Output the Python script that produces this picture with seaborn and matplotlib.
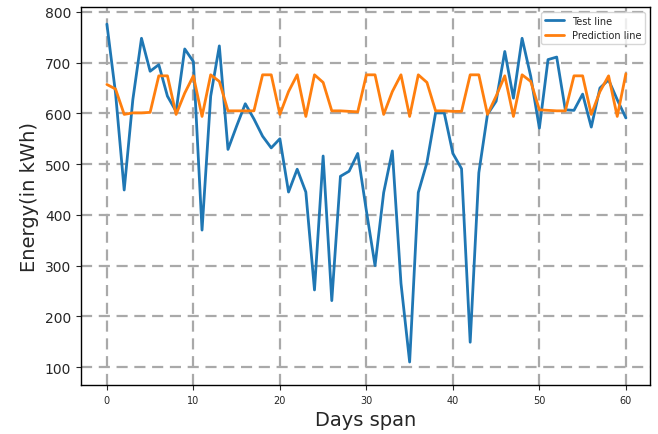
import matplotlib
matplotlib.use("Agg")
import matplotlib.pyplot as plt
import numpy as np
import pandas as pd
import seaborn as sns

sns.set_style("ticks")

days = list(range(61))

test_vals = [
    776, 640, 449, 627, 748, 683, 696, 634, 604, 727,
    702, 370, 634, 733, 529, 575, 619, 589, 555, 532,
    550, 445, 490, 445, 252, 516, 231, 476, 486, 521,
    408, 300, 444, 526, 265, 110, 444, 503, 601, 601,
    521, 491, 149, 483, 598, 624, 722, 630, 748, 673,
    571, 706, 711, 607, 606, 638, 573, 650, 666, 627,
    591,
]

pred_vals = [
    657, 648, 598, 601, 601, 602, 674, 674, 598, 640,
    674, 594, 676, 663, 605, 605, 605, 605, 676, 676,
    598, 643, 676, 594, 676, 661, 605, 605, 604, 603,
    676, 676, 598, 643, 676, 594, 676, 661, 605, 605,
    604, 604, 676, 676, 598, 634, 674, 594, 676, 663,
    607, 606, 605, 605, 674, 674, 598, 643, 674, 594,
    678,
]

df = pd.DataFrame({
    "day": days * 2,
    "energy": test_vals + pred_vals,
    "series": ["Test line"] * len(days) + ["Prediction line"] * len(days),
})

fig = plt.figure(figsize=(6.58, 4.35), dpi=100)
ax = fig.add_axes([0.123, 0.113, 0.865, 0.869])

sns.lineplot(data=df, x="day", y="energy", hue="series",
             palette=["#1f77b4", "#ff7f0e"], linewidth=2, ax=ax)

ax.grid(True, linestyle=(0, (5, 3)), color="#a9a9a9", linewidth=1.6)
ax.set_axisbelow(True)
ax.set_xlim(-3, 62.8)
ax.set_ylim(65, 810)
ax.set_xticks([0, 10, 20, 30, 40, 50, 60])
ax.set_yticks([100, 200, 300, 400, 500, 600, 700, 800])
ax.tick_params(axis="x", labelsize=7)
ax.tick_params(axis="y", labelsize=10)
ax.set_xlabel("Days span", fontsize=14)
ax.set_ylabel("Energy(in kWh)", fontsize=14)
ax.legend(loc="upper right", fontsize=7, title=None)

for s in ax.spines.values():
    s.set_color("black")
    s.set_linewidth(1.0)

plt.savefig("out.png", dpi=100)
